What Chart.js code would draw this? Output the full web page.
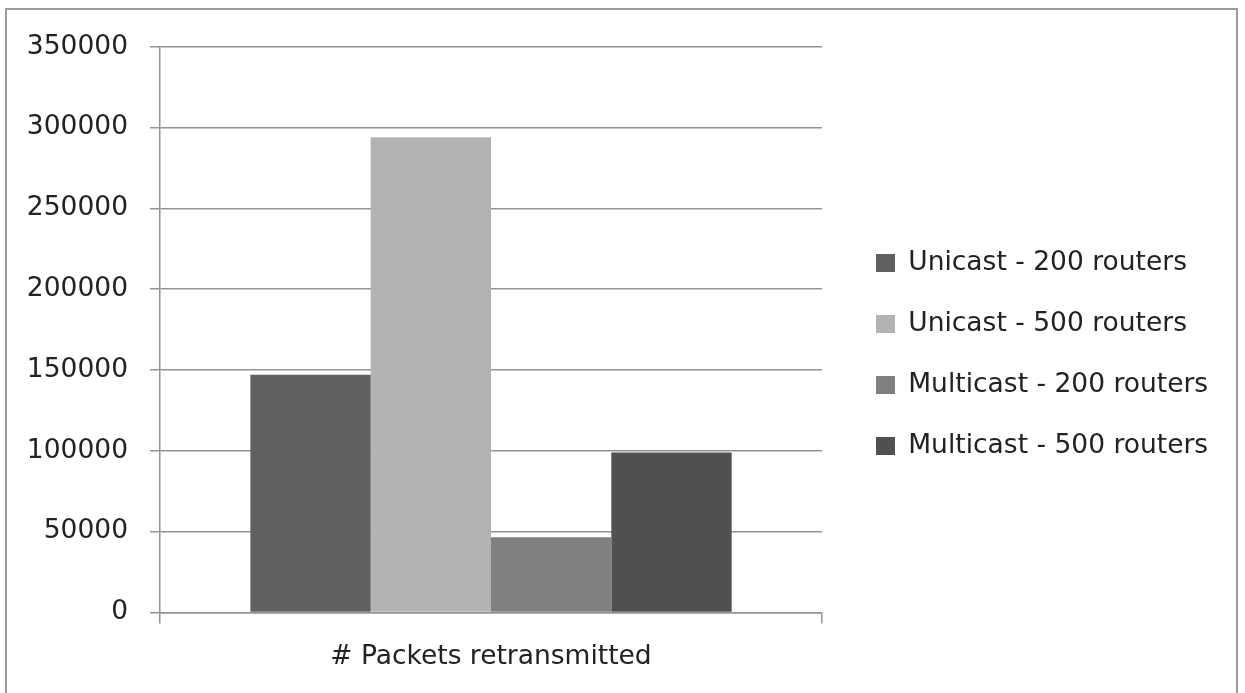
<!DOCTYPE html>
<html>
<head>
<meta charset="utf-8">
<script src="https://cdn.jsdelivr.net/npm/chart.js@4.4.1/dist/chart.umd.min.js"></script>
<style>
  html, body { margin: 0; padding: 0; background: #fff; overflow: hidden; }
  #wrap { position: absolute; left: 0; top: 0; width: 1245px; height: 693px; }
  #frame { position: absolute; left: 5px; top: 8px; width: 1233px; height: 720px;
           box-sizing: border-box; border: 2px solid #9c9c9c; pointer-events: none; }
</style>
</head>
<body>
<div id="wrap"><canvas id="c" width="1245" height="693"></canvas></div>
<div id="frame"></div>
<script>
// Data
const categories = ['# Packets retransmitted'];
const seriesNames = ['Unicast - 200 routers', 'Unicast - 500 routers', 'Multicast - 200 routers', 'Multicast - 500 routers'];
const unicast200 = [147000];
const unicast500 = [294000];
const multicast200 = [46500];
const multicast500 = [99000];
const yTicks = [0, 50000, 100000, 150000, 200000, 250000, 300000, 350000];

// Styling
const seriesColors = ['#606060', '#b3b3b3', '#808080', '#505050'];
const FONT_FAMILY = '"DejaVu Sans", sans-serif';
const FS = 26.5;
const TEXT_COLOR = '#222222';
const LINE_COLOR = '#939393';
const PLOT_LEFT = 160, PLOT_RIGHT = 822;
const LEG_PAD = 34.5, BOX_W = 19, BOX_H = 18;
const LEG_BOX_X = 876, LEG_FIRST_ROW_Y = 263;

// Reserve exactly enough room on the right so the plot ends at PLOT_RIGHT
const mctx = document.createElement('canvas').getContext('2d');
mctx.font = FS + 'px ' + FONT_FAMILY;
const maxTextW = Math.max(...seriesNames.map(n => mctx.measureText(n).width));
const legendW = LEG_PAD + BOX_W + FS / 2 + maxTextW + 10;
const rightPad = 1245 - PLOT_RIGHT - legendW;

const seriesValues = [unicast200, unicast500, multicast200, multicast500];
const datasets = seriesNames.map((name, i) => ({
  label: name,
  data: seriesValues[i],
  backgroundColor: seriesColors[i],
  borderWidth: 0,
  categoryPercentage: 0.727,
  barPercentage: 1.0
}));

// Move the legend block to its place beside the plot
const legendPlacer = {
  id: 'legendPlacer',
  afterLayout(chart) {
    const lg = chart.legend;
    if (!lg) return;
    const dx = LEG_BOX_X - (lg.left + LEG_PAD);
    const colH = seriesNames.length * (FS + LEG_PAD);
    const y0 = (lg.top + LEG_PAD + lg.bottom - colH) / 2;
    const dy = LEG_FIRST_ROW_Y - FS / 2 - y0;
    lg.left += dx; lg.right += dx + 40;
    lg.top += dy; lg.bottom += dy;
  }
};

const font = { family: FONT_FAMILY, size: FS };

new Chart(document.getElementById('c'), {
  type: 'bar',
  data: { labels: categories, datasets },
  plugins: [legendPlacer],
  options: {
    responsive: false,
    animation: false,
    devicePixelRatio: 1,
    layout: { padding: { left: 0, top: 46.7, bottom: 1.8, right: rightPad } },
    plugins: {
      tooltip: { enabled: false },
      legend: {
        position: 'right',
        align: 'center',
        maxWidth: 600,
        labels: { font, color: TEXT_COLOR, boxWidth: BOX_W, boxHeight: BOX_H, padding: LEG_PAD }
      }
    },
    scales: {
      x: {
        offset: true,
        grid: { display: true, drawOnChartArea: false, drawTicks: true, tickLength: 11,
                color: LINE_COLOR, lineWidth: 1.5, offset: true },
        border: { display: true, color: LINE_COLOR, width: 1.5 },
        ticks: { font, color: TEXT_COLOR, padding: 18 }
      },
      y: {
        min: 0,
        max: 350000,
        afterBuildTicks: s => { s.ticks = yTicks.map(v => ({ value: v })); },
        afterFit: s => { s.width = PLOT_LEFT; },
        grid: { color: LINE_COLOR, lineWidth: 1.5, tickLength: 10, drawTicks: true },
        border: { display: true, color: LINE_COLOR, width: 1.5 },
        ticks: { font, color: TEXT_COLOR, padding: 22, callback: v => String(v) }
      }
    }
  }
});
</script>
</body>
</html>
